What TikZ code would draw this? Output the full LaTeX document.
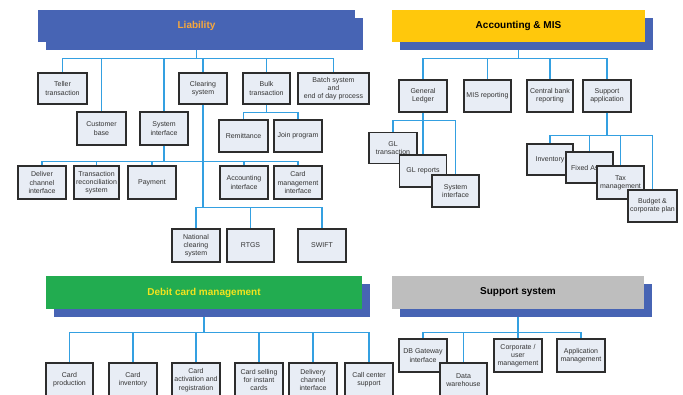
\documentclass[tikz,border=0pt]{standalone}
\usepackage{fontspec}
\setmainfont{Liberation Sans}
\usetikzlibrary{shadows}
\definecolor{hdblue}{RGB}{71,100,180}
\definecolor{hdyellow}{RGB}{255,200,12}
\definecolor{hdgreen}{RGB}{34,172,80}
\definecolor{hdgray}{RGB}{190,190,190}
\definecolor{boxfill}{RGB}{232,237,245}
\definecolor{boxline}{RGB}{45,45,45}
\definecolor{linkblue}{RGB}{52,160,225}
\definecolor{liatext}{RGB}{248,168,60}
\definecolor{debtext}{RGB}{242,228,30}
\begin{document}
\begin{tikzpicture}[x=1pt,y=-1pt,
    orgbox/.style={draw=boxline,line width=1.4pt,fill=boxfill,align=center,
      inner sep=0.5pt,minimum width=48pt,minimum height=32pt,text=black!80,
      font=\fontsize{7}{8.3}\selectfont},
    hdr/.style={fill=#1,minimum height=32pt,font=\fontsize{10}{12}\selectfont\bfseries,
      general shadow={fill=hdblue,shadow xshift=7.5pt,shadow yshift=-7.5pt}},
    link/.style={draw=linkblue,line width=1.1pt}]
  \clip (0,0) rectangle (683,394);
  \fill[white] (0,0) rectangle (683,394);

  % liability
  \node[hdr=hdblue,minimum width=317pt,text=liatext] (lia) at (196.5,26) {Liability};
  \node[orgbox,minimum width=49pt,minimum height=31pt] (teller) at (62.5,88.5) {Teller\\transaction};
  \node[orgbox,minimum height=31pt] (clear) at (203,88.5) {Clearing\\system};
  \node[orgbox,minimum width=47pt,minimum height=31pt] (bulk) at (266.5,88.5) {Bulk\\transaction};
  \node[orgbox,minimum width=71pt,minimum height=31pt] (batch) at (333.5,88.5) {Batch system\\and\\end of day process};
  \node[orgbox,minimum width=49pt,minimum height=33pt] (cust) at (101.5,128.5) {Customer\\base};
  \node[orgbox,minimum height=33pt] (sysif) at (164,128.5) {System\\interface};
  \node[orgbox,minimum width=49pt] (remit) at (243.5,136) {Remittance};
  \node[orgbox] (join) at (298,136) {Join program};
  \node[orgbox,minimum height=33pt] (deliv) at (42,182.5) {Deliver\\channel\\interface};
  \node[orgbox,minimum width=45pt,minimum height=33pt] (recon) at (96.5,182.5) {Transaction\\reconciliation\\system};
  \node[orgbox,minimum height=33pt] (pay) at (152,182.5) {Payment};
  \node[orgbox,minimum height=33pt] (accif) at (244,182.5) {Accounting\\interface};
  \node[orgbox,minimum height=33pt] (cardif) at (298,182.5) {Card\\management\\interface};
  \node[orgbox,minimum height=33pt] (natl) at (196,245.5) {National\\clearing\\system};
  \node[orgbox,minimum width=47pt,minimum height=33pt] (rtgs) at (250.5,245.5) {RTGS};
  \node[orgbox,minimum height=33pt] (swift) at (322,245.5) {SWIFT};

  \draw[link] ([yshift=-7.5pt]lia.south) -- ++(0,8.5) coordinate (libus);
  \foreach \c in {teller,cust,sysif,clear,bulk,batch}
    \draw[link] (libus) -| (\c.north);
  \draw[link] (bulk.south) -- ++(0,8) coordinate (bubus);
  \foreach \c in {remit,join}
    \draw[link] (bubus) -| (\c.north);
  \draw[link] (sysif.south) -- ++(0,16) coordinate (sibus);
  \foreach \c in {deliv,recon,pay,accif,cardif}
    \draw[link] (sibus) -| (\c.north);
  \draw[link] (clear.south) -- ++(0,103) coordinate (clbus);
  \foreach \c in {natl,rtgs,swift}
    \draw[link] (clbus) -| (\c.north);

  % accounting & MIS
  \node[hdr=hdyellow,minimum width=253pt] (acc) at (518.5,26) {Accounting \& MIS};
  \node[orgbox] (gl) at (423,96) {General\\Ledger};
  \node[orgbox,minimum width=47pt] (mis) at (487.5,96) {MIS reporting};
  \node[orgbox,minimum width=46pt] (cbank) at (550,96) {Central bank\\reporting};
  \node[orgbox] (supp) at (607,96) {Support\\application};
  \node[orgbox,minimum height=31pt] (gltr) at (393,148) {GL\\transaction};
  \node[orgbox,minimum width=47pt] (glrep) at (423,171) {GL reports};
  \node[orgbox,minimum width=47pt] (glsys) at (455.5,191) {System\\interface};
  \node[orgbox,minimum width=46pt,minimum height=31pt] (inv) at (550,159.5) {Inventory};
  \node[orgbox,minimum width=47pt,minimum height=31pt] (fixed) at (589.5,167.5) {Fixed Asset};
  \node[orgbox,minimum width=47pt,minimum height=33pt] (tax) at (620.5,182.5) {Tax\\management};
  \node[orgbox,minimum width=49pt] (budget) at (652.5,206) {Budget \&\\corporate plan};

  \draw[link] ([yshift=-7.5pt]acc.south) -- ++(0,8.5) coordinate (acbus);
  \foreach \c in {gl,mis,cbank,supp}
    \draw[link] (acbus) -| (\c.north);
  \draw[link] (gl.south) -- ++(0,8) coordinate (glbus);
  \foreach \c in {gltr,glrep,glsys}
    \draw[link] (glbus) -| (\c.north);
  \draw[link] (supp.south) -- ++(0,23) coordinate (spbus);
  \foreach \c in {inv,fixed,tax,budget}
    \draw[link] (spbus) -| (\c.north);

  % debit card management
  \node[hdr=hdgreen,minimum width=316pt,minimum height=33pt,text=debtext] (debit) at (204,292.5) {Debit card management};
  \node[orgbox,minimum width=47pt,minimum height=34pt] (cprod) at (69.5,380) {Card\\production};
  \node[orgbox,minimum height=34pt] (cinv) at (133,380) {Card\\inventory};
  \node[orgbox,minimum height=34pt] (cact) at (196,380) {Card\\activation and\\registration};
  \node[orgbox,minimum height=34pt] (csell) at (259,380) {Card selling\\for instant\\cards};
  \node[orgbox,minimum height=34pt] (cdel) at (313,380) {Delivery\\channel\\interface};
  \node[orgbox,minimum height=34pt] (ccall) at (369,380) {Call center\\support};

  \draw[link] ([yshift=-7.5pt]debit.south) -- ++(0,15.5) coordinate (debus);
  \foreach \c in {cprod,cinv,cact,csell,cdel,ccall}
    \draw[link] (debus) -| (\c.north);

  % support system
  \node[hdr=hdgray,minimum width=252pt,minimum height=33pt] (sup) at (518,292.5) {Support system};
  \node[orgbox,minimum height=33pt] (dbgw) at (423,355.5) {DB Gateway\\interface};
  \node[orgbox,minimum width=47pt,minimum height=34pt] (dwh) at (463.5,380) {Data\\warehouse};
  \node[orgbox,minimum height=33pt] (corp) at (518,355.5) {Corporate /\\user\\management};
  \node[orgbox,minimum height=33pt] (appm) at (581,355.5) {Application\\management};

  \draw[link] ([yshift=-7.5pt]sup.south) -- ++(0,15.5) coordinate (ssbus);
  \foreach \c in {dbgw,dwh,corp,appm}
    \draw[link] (ssbus) -| (\c.north);
\end{tikzpicture}
\end{document}
